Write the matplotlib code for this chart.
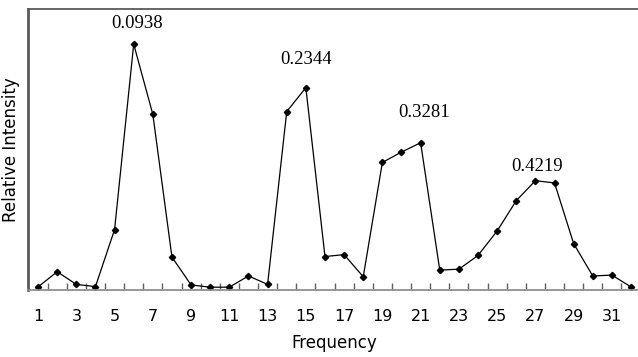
import numpy as np
import matplotlib
matplotlib.use("Agg")
import matplotlib.pyplot as plt

# spectrum samples, one per frequency bin
freq = np.arange(1, 33)
intensity = [1.1, 6.5, 2.0, 1.2, 21.5, 87.5, 62.5, 11.7, 1.8, 1.0, 1.0, 5.0,
             2.0, 63.5, 72.0, 11.9, 12.6, 4.7, 45.4, 49.1, 52.4, 7.1, 7.4, 12.3,
             21.0, 31.8, 38.9, 38.1, 16.5, 5.0, 5.3, 1.1]

# peaks labelled with normalised frequency (bin / 64)
peak_bins = [6, 15, 21, 27]
label_x = [6.2, 15.0, 21.2, 27.1]
label_y = [95.0, 82.2, 63.0, 44.1]
n_fft = 64

tick_labels = [str(i) for i in range(1, 33, 2)]

fig = plt.figure(figsize=(6.38, 3.57), dpi=100)
ax = fig.add_axes([28.5 / 638, 67 / 357, 612.1 / 638, 281 / 357])

ax.plot(freq, intensity, color='black', lw=0.9, marker='D', ms=3.2,
        mfc='black', mec='black')

for b, tx, ty in zip(peak_bins, label_x, label_y):
    ax.text(tx, ty, f"{b / n_fft:.4f}", ha='center', va='center',
            family='Liberation Serif', fontsize=13.5)

ax.set_xlim(0.5, 32.5)
ax.set_ylim(0, 100)
ax.set_yticks([])

ax.set_xticks(range(1, 33, 2))
ax.set_xticklabels(tick_labels, fontsize=11.5)
ax.set_xticks(np.arange(1.5, 32, 1), minor=True)
ax.tick_params(axis='x', which='major', length=0, pad=14)
ax.tick_params(axis='x', which='minor', direction='in', length=5,
               color='#606060', width=1)

ax.set_xlabel("Frequency", fontsize=12, labelpad=7)
ax.set_ylabel("Relative Intensity", fontsize=12, labelpad=6)

ax.spines['left'].set_color('#5a5a5a')
ax.spines['left'].set_linewidth(2)
ax.spines['top'].set_color('#5a5a5a')
ax.spines['top'].set_linewidth(1.3)
ax.spines['bottom'].set_color('#909090')
ax.spines['bottom'].set_linewidth(1.3)
ax.spines['right'].set_visible(False)

fig.savefig("out.png", dpi=100)
